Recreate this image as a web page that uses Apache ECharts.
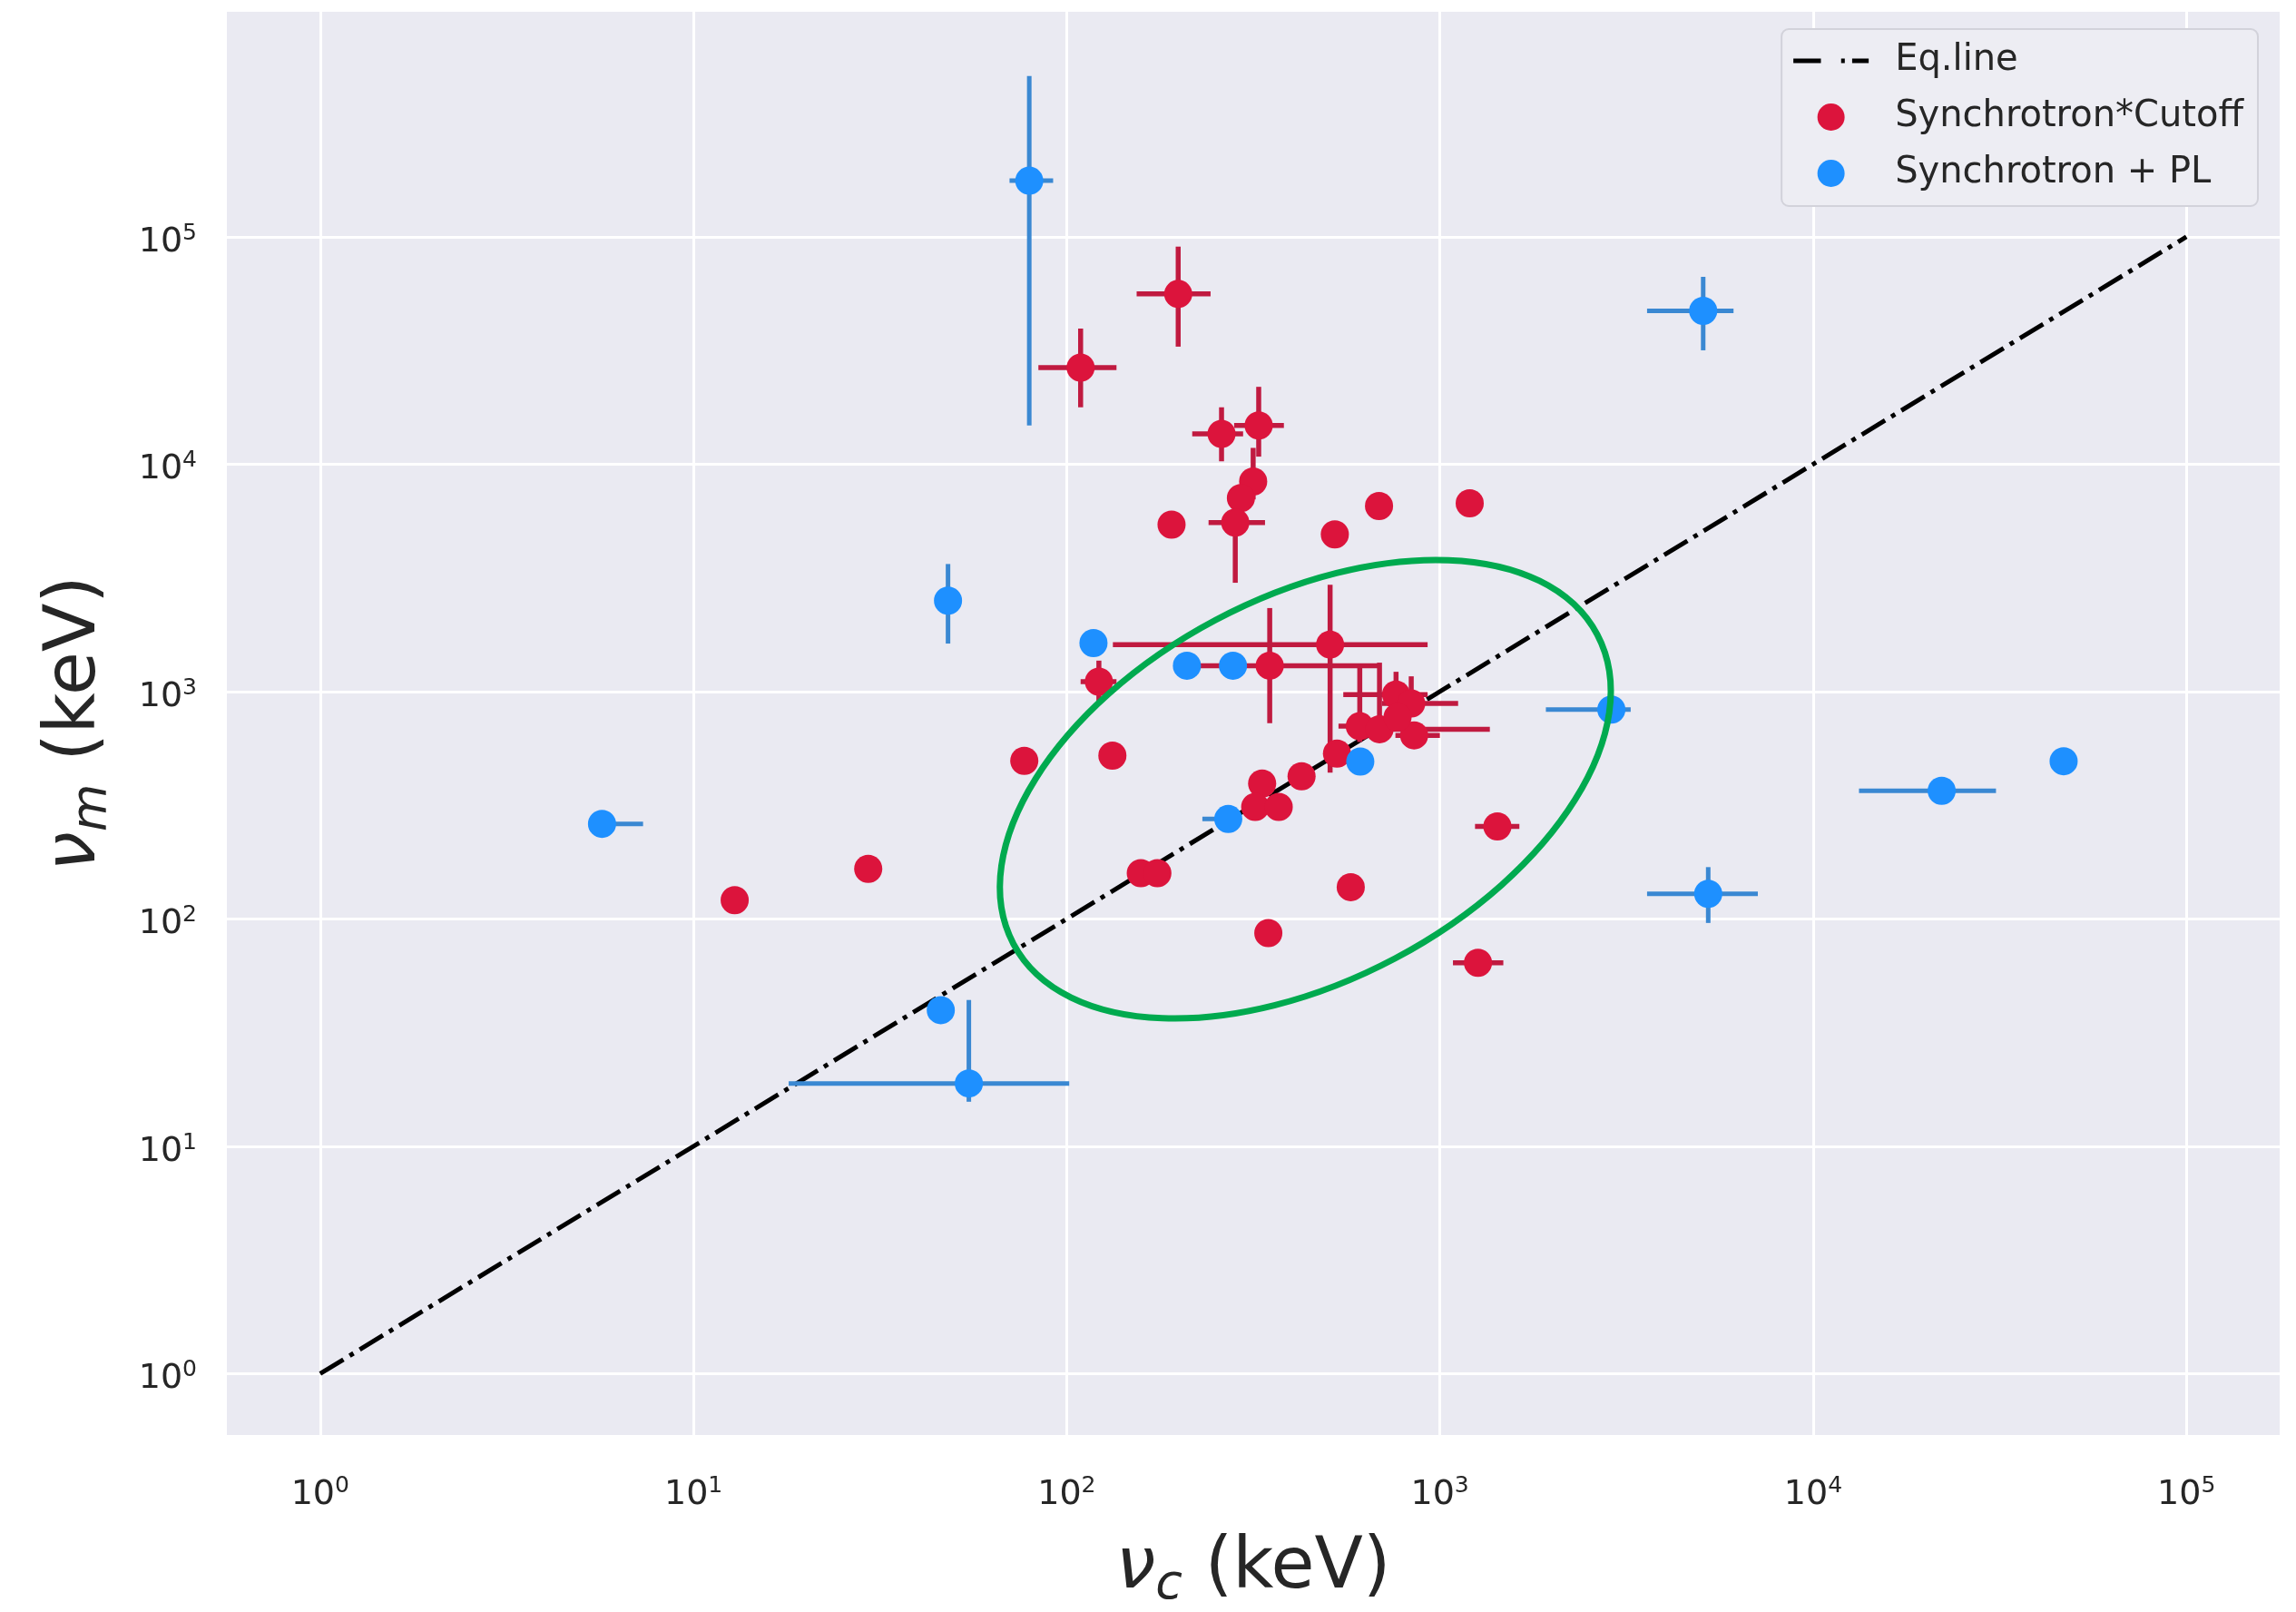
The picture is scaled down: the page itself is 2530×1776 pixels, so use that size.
<!DOCTYPE html>
<html>
<head>
<meta charset="utf-8">
<script src="https://cdn.jsdelivr.net/npm/echarts@6/dist/echarts.min.js"></script>
<style>html,body{margin:0;padding:0;background:#fff}#c{width:2530px;height:1776px}</style>
</head>
<body>
<div id="c"></div>
<script>
// ---------------- data (keV) ----------------
// Synchrotron*Cutoff
const cutoffNuC = [109, 199, 260, 327, 316, 293, 283, 191, 523, 687, 1202, 122, 350, 508, 763, 838, 610, 689, 853, 770, 530, 426, 334, 320, 370, 158, 175, 577, 347, 1426, 1265, 77, 132.6, 12.9, 29.4];
const cutoffNuM = [26600, 56100, 13600, 14800, 8400, 7100, 5540, 5420, 4910, 6550, 6730, 1105, 1300, 1610, 970, 886, 704, 683, 642, 771, 534, 424, 394, 311, 311, 159, 159, 138, 86.7, 255, 64.1, 496, 523, 121, 166];
const cutoffNuCErr = [[84,136],[154,243],[217,297],[281,382],null,null,[240,340],null,null,null,null,[109,136],[228,689],[133,927],[551,927],[700,1119],[535,680],[620,1361],[760,1000],null,null,null,null,null,null,null,null,null,null,[1242,1633],[1084,1479],null,null,null,null];
const cutoffNuMErr = [[17800,39500],[32900,90600],[10300,17800],[10800,21900],[7000,11800],null,[3010,6600],[5000,6100],[4500,5400],null,null,[891,1368],[726,2330],[440,2950],[800,1222],[780,1167],[600,1303],[600,1340],null,null,null,null,null,null,null,null,null,null,null,[240,270],[58,71],null,null,null,null];

// Synchrotron + PL
const plNuC = [79.4, 5075, 48.1, 118, 210, 279, 612, 271, 2880, 22100, 46900, 5235, 5.69, 46.0, 54.7];
const plNuM = [176600, 47300, 2510, 1634, 1300, 1300, 492, 275, 833, 366, 494, 129, 262, 39.7, 18.9];
const plNuCErr = [[70.3,92],[3590,6120],[45.5,50.5],null,null,null,null,[231,290],[1923,3245],[13270,30900],null,[3590,7110],[5.69,7.33],null,[18.0,101.6]];
const plNuMErr = [[14800,510000],[31700,66700],[1626,3640],null,null,null,null,null,null,null,null,[96,169],null,null,[15.7,44]];

// equality line nu_m = nu_c
const eqLine = [[1, 1], [1e5, 1e5]];

// axis extents (log10)
const xExp = [-0.25, 5.25];
const yExp = [-0.27, 5.99];

// annotation (hand-drawn green ellipse), centre in data space
const ELLIPSE = { center: [436, 372], rx: 364, ry: 211, angleDeg: 27.9 };

// ---------------- helpers ----------------
function buildErr(xs, ys, xe, ye) {
  return xs.map((x, i) => {
    const y = ys[i];
    const a = xe[i] || [x, x];
    const b = ye[i] || [y, y];
    return [x, y, a[0], a[1], b[0], b[1]];
  });
}
function errRenderer(color, width) {
  return function (params, api) {
    const x = api.value(0), y = api.value(1);
    const xl = api.value(2), xh = api.value(3), yl = api.value(4), yh = api.value(5);
    const ch = [];
    if (xh > xl) {
      const p1 = api.coord([xl, y]), p2 = api.coord([xh, y]);
      ch.push({ type: 'line', shape: { x1: p1[0], y1: p1[1], x2: p2[0], y2: p2[1] },
        style: { stroke: color, lineWidth: width, lineCap: 'butt' } });
    }
    if (yh > yl) {
      const p1 = api.coord([x, yl]), p2 = api.coord([x, yh]);
      ch.push({ type: 'line', shape: { x1: p1[0], y1: p1[1], x2: p2[0], y2: p2[1] },
        style: { stroke: color, lineWidth: width, lineCap: 'butt' } });
    }
    return { type: 'group', children: ch };
  };
}
function powLabel(v) {
  const e = Math.log10(v);
  const r = Math.round(e);
  if (Math.abs(e - r) > 1e-6) return '';
  return '{b|10}{s|' + r + '}';
}
const FONT = 'DejaVu Sans';
const TXT = '#262626';
const tickRich = {
  b: { fontFamily: FONT, fontSize: 38, lineHeight: 44, color: TXT },
  s: { fontFamily: FONT, fontSize: 25, lineHeight: 25, verticalAlign: 'top', color: TXT }
};
const titleRich = {
  i: { fontFamily: FONT, fontStyle: 'italic', fontSize: 78, lineHeight: 90, color: TXT },
  c: { fontFamily: FONT, fontStyle: 'italic', fontSize: 54, lineHeight: 46, verticalAlign: 'bottom', color: TXT },
  n: { fontFamily: FONT, fontSize: 78, lineHeight: 90, color: TXT }
};
const RED = '#dc143c', RED_E = '#c01a40';
const BLUE = '#1e90ff', BLUE_E = '#3a88d2';
// legend handle: dash - dot - dash
const DASHDOT_ICON = 'path://M0,0H30V5H0Z M52,0H56V5H52Z M64,0H82V5H64Z';

const chart = echarts.init(document.getElementById('c'), null, { renderer: 'canvas' });
chart.setOption({
  animation: false,
  backgroundColor: '#ffffff',
  grid: { left: 250, right: 18, top: 13, bottom: 195, show: true, backgroundColor: '#eaeaf2', borderWidth: 0,
          containLabel: false, outerBoundsMode: 'none' },
  xAxis: {
    type: 'log', logBase: 10,
    min: Math.pow(10, xExp[0]), max: Math.pow(10, xExp[1]),
    axisLine: { show: false }, axisTick: { show: false }, minorTick: { show: false },
    splitLine: { show: true, showMinLine: false, showMaxLine: false, lineStyle: { color: '#ffffff', width: 3 } },
    axisLabel: { formatter: powLabel, rich: tickRich, margin: 44, showMinLabel: false, showMaxLabel: false },
    name: '{i|ν}{c|c}{n| (keV)}', nameLocation: 'middle', nameGap: 103,
    nameTextStyle: { rich: titleRich }
  },
  yAxis: {
    type: 'log', logBase: 10,
    min: Math.pow(10, yExp[0]), max: Math.pow(10, yExp[1]),
    axisLine: { show: false }, axisTick: { show: false }, minorTick: { show: false },
    splitLine: { show: true, showMinLine: false, showMaxLine: false, lineStyle: { color: '#ffffff', width: 3 } },
    axisLabel: { formatter: powLabel, rich: tickRich, margin: 33, padding: [12, 0, 0, 0], showMinLabel: false, showMaxLabel: false },
    name: '{i|ν}{c|m}{n| (keV)}', nameLocation: 'middle', nameGap: 121,
    nameTextStyle: { rich: titleRich }
  },
  legend: {
    orient: 'vertical', right: 42, top: 32,
    data: [
      { name: 'Eq.line', icon: DASHDOT_ICON, itemStyle: { color: '#000000' } },
      { name: 'Synchrotron*Cutoff', icon: 'circle' },
      { name: 'Synchrotron + PL', icon: 'circle' }
    ],
    itemWidth: 83, itemHeight: 30, itemGap: 22,
    padding: [15, 16, 16, 13],
    backgroundColor: '#ededf3', borderColor: '#d2d2da', borderWidth: 2, borderRadius: 8,
    textStyle: { fontFamily: FONT, fontSize: 40, lineHeight: 40, color: TXT, padding: [0, 0, 0, 24] }
  },
  series: [
    {
      type: 'line', name: 'Eq.line', data: eqLine, symbol: 'none', z: 2,
      lineStyle: { color: '#000000', width: 5, type: [30, 8, 5, 8], cap: 'butt' },
      itemStyle: { color: '#000000' }
    },
    {
      type: 'custom', name: 'cutoffErr', z: 3, silent: true,
      dimensions: ['x', 'y', 'xl', 'xh', 'yl', 'yh'], encode: { x: 0, y: 1 },
      data: buildErr(cutoffNuC, cutoffNuM, cutoffNuCErr, cutoffNuMErr),
      renderItem: errRenderer(RED_E, 5.5)
    },
    {
      type: 'scatter', name: 'Synchrotron*Cutoff', z: 4, symbol: 'circle', symbolSize: 31,
      data: cutoffNuC.map((x, i) => [x, cutoffNuM[i]]),
      itemStyle: { color: RED, opacity: 1 }
    },
    {
      type: 'custom', name: 'plErr', z: 5, silent: true,
      dimensions: ['x', 'y', 'xl', 'xh', 'yl', 'yh'], encode: { x: 0, y: 1 },
      data: buildErr(plNuC, plNuM, plNuCErr, plNuMErr),
      renderItem: errRenderer(BLUE_E, 5)
    },
    {
      type: 'scatter', name: 'Synchrotron + PL', z: 6, symbol: 'circle', symbolSize: 31,
      data: plNuC.map((x, i) => [x, plNuM[i]]),
      itemStyle: { color: BLUE, opacity: 1 }
    },
    {
      type: 'custom', name: 'annotation', z: 10, silent: true, clip: false,
      encode: { x: 0, y: 1 },
      data: [ELLIPSE.center],
      renderItem: function (params, api) {
        const c = api.coord([api.value(0), api.value(1)]);
        return {
          type: 'ellipse', x: c[0], y: c[1], rotation: ELLIPSE.angleDeg * Math.PI / 180,
          shape: { cx: 0, cy: 0, rx: ELLIPSE.rx, ry: ELLIPSE.ry },
          style: { fill: 'none', stroke: '#00aa4f', lineWidth: 7 }
        };
      }
    }
  ]
});
</script>
</body>
</html>
